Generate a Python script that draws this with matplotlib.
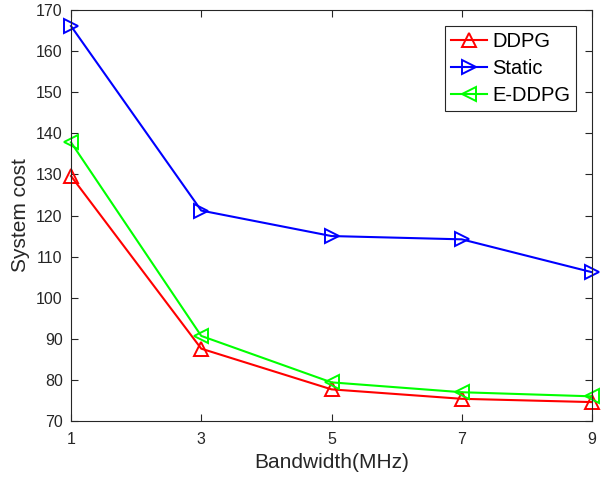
import matplotlib
matplotlib.use("Agg")
import matplotlib.pyplot as plt

bandwidth = [1, 3, 5, 7, 9]
ddpg = [129.6, 87.6, 77.7, 75.4, 74.6]
static = [166.1, 121.2, 115.0, 114.2, 106.2]
eddpg = [137.8, 90.7, 79.4, 77.0, 76.0]

plt.rcParams['font.family'] = ['Liberation Sans', 'DejaVu Sans']

fig = plt.figure(figsize=(6.03, 4.78), dpi=100)
ax = fig.add_axes([71 / 603, 1 - 421 / 478, 521 / 603, 411 / 478])

common = dict(markersize=10.5, markerfacecolor='none', markeredgewidth=1.4,
              linewidth=1.5, clip_on=False)
ax.plot(bandwidth, ddpg, color='#ff0000', marker='^', label='DDPG', **common)
ax.plot(bandwidth, static, color='#0000ff', marker='>', label='Static', **common)
ax.plot(bandwidth, eddpg, color='#00ff00', marker='<', label='E-DDPG', **common)

ax.set_xlim(1, 9)
ax.set_ylim(70, 170)
ax.set_xticks([1, 3, 5, 7, 9])
ax.set_yticks(range(70, 171, 10))
ax.tick_params(direction='in', top=True, right=True, labelsize=11.5, colors='#262626',
               length=5)
ax.tick_params(axis='y', pad=6)
ax.tick_params(axis='x', pad=8)
for s in ax.spines.values():
    s.set_color('#262626')
    s.set_linewidth(0.8)
ax.set_xlabel('Bandwidth(MHz)', fontsize=15, color='#262626', labelpad=4)
ax.set_ylabel('System cost', fontsize=15, color='#262626', labelpad=4)

leg = ax.legend(loc='upper right', bbox_to_anchor=((576 - 71) / 521, (421 - 26) / 411),
                fontsize=14.5, fancybox=False, edgecolor='#262626', framealpha=1,
                handlelength=1.8, handletextpad=0.25, borderpad=0.3, labelspacing=0.4,
                borderaxespad=0)
leg.get_frame().set_linewidth(0.8)

fig.savefig('out.png', dpi=100)
